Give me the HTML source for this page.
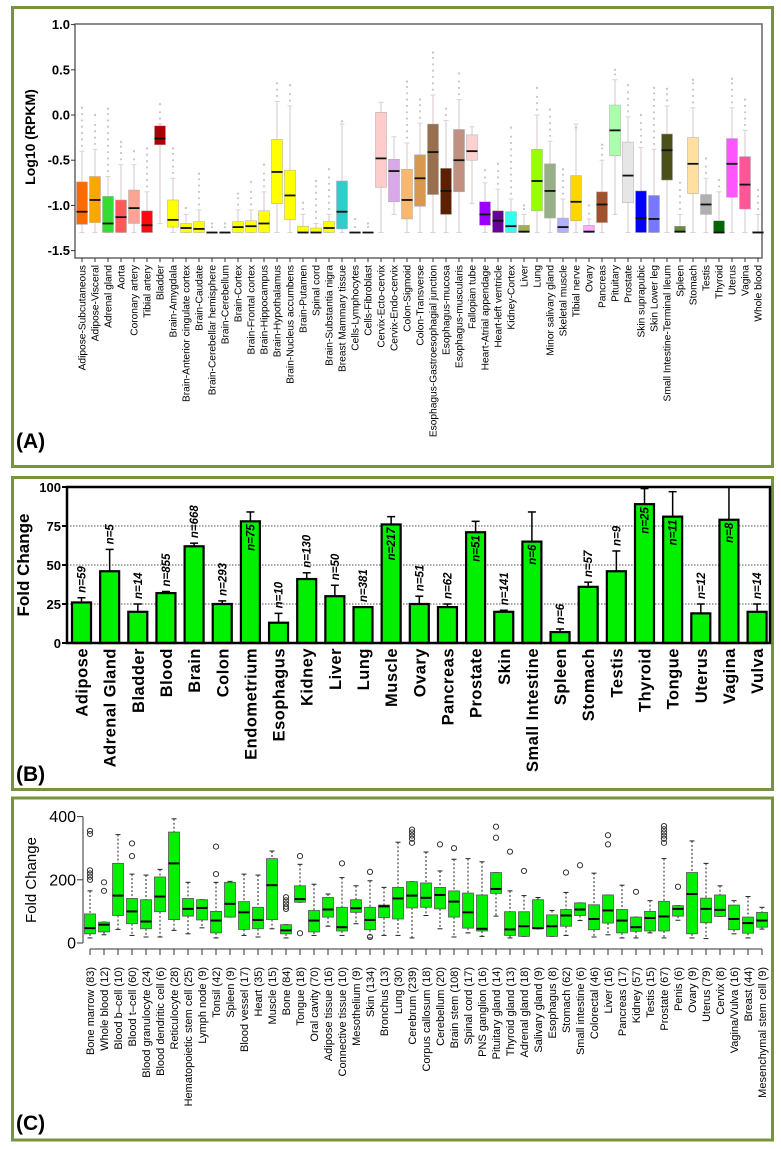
<!DOCTYPE html>
<html><head><meta charset="utf-8"><style>
body{margin:0;background:#fff}
svg{display:block}
text{font-family:"Liberation Sans",sans-serif}
</style></head><body>
<svg id="fig" width="781" height="1149" viewBox="0 0 781 1149" xmlns="http://www.w3.org/2000/svg">
<rect x="0" y="0" width="781" height="1149" fill="#fff"/>
<rect x="12.5" y="7.5" width="760" height="459" fill="none" stroke="#77933C" stroke-width="3"/>
<rect x="12.5" y="477.5" width="760" height="312" fill="none" stroke="#77933C" stroke-width="3"/>
<rect x="12.5" y="798" width="760" height="342" fill="none" stroke="#77933C" stroke-width="3"/>
<g id="gA"></g><g id="gB"></g><g id="gC"></g>
<text x="16" y="448" font-size="21" font-weight="bold">(A)</text>
<text x="16" y="781" font-size="21" font-weight="bold">(B)</text>
<text x="16" y="1130" font-size="21" font-weight="bold">(C)</text>
</svg>
<script>
// ---------- Panel A data ----------
const catsA=["Adipose-Subcutaneous","Adipose-Visceral","Adrenal gland","Aorta","Coronary artery","Tibial artery","Bladder","Brain-Amygdala","Brain-Anterior cingulate cortex","Brain-Caudate","Brain-Cerebellar hemisphere","Brain-Cerebellum","Brain-Cortex","Brain-Frontal cortex","Brain-Hippocampus","Brain-Hypothalamus","Brain-Nucleus accumbens","Brain-Putamen","Spinal cord","Brain-Substantia nigra","Breast Mammary tissue","Cells-Lymphocytes","Cells-Fibroblast","Cervix-Ecto-cervix","Cervix-Endo-cervix","Colon-Sigmoid","Colon-Transverse","Esophagus-Gastroesophagial junction","Esophagus-mucosa","Esophagus-muscularis","Fallopian tube","Heart-Atrial appendage","Heart-left ventricle","Kidney-Cortex","Liver","Lung","Minor salivary gland","Skeletal muscle","Tibial nerve","Ovary","Pancreas","Pituitary","Prostate","Skin suprapubic","Skin Lower leg","Small Intestine-Terminal Ileum","Spleen","Stomach","Testis","Thyroid","Uterus","Vagina","Whole blood"];
const q3A=[-0.74,-0.68,-0.9,-0.94,-0.83,-1.06,-0.12,-0.94,-1.2,-1.18,-1.3,-1.3,-1.18,-1.17,-1.06,-0.27,-0.61,-1.23,-1.25,-1.18,-0.73,-1.3,-1.3,0.03,-0.49,-0.6,-0.44,-0.1,-0.59,-0.16,-0.22,-0.96,-1.06,-1.07,-1.22,-0.38,-0.54,-1.14,-0.67,-1.22,-0.85,0.11,-0.3,-0.84,-0.89,-0.21,-1.23,-0.25,-0.88,-1.17,-0.26,-0.46,-1.29];
const medA=[-1.07,-0.94,-1.2,-1.13,-1.03,-1.22,-0.26,-1.16,-1.25,-1.26,-1.3,-1.3,-1.24,-1.23,-1.2,-0.63,-0.89,-1.3,-1.3,-1.25,-1.07,-1.3,-1.3,-0.48,-0.62,-0.94,-0.7,-0.41,-0.84,-0.5,-0.4,-1.1,-1.17,-1.23,-1.29,-0.73,-0.84,-1.24,-0.96,-1.29,-0.99,-0.17,-0.67,-1.14,-1.15,-0.39,-1.29,-0.54,-0.99,-1.3,-0.54,-0.77,-1.3];
const q1A=[-1.21,-1.19,-1.3,-1.3,-1.2,-1.3,-0.33,-1.24,-1.3,-1.3,-1.3,-1.3,-1.3,-1.3,-1.3,-0.98,-1.16,-1.3,-1.3,-1.3,-1.26,-1.3,-1.3,-0.8,-0.96,-1.15,-1.01,-0.88,-1.1,-0.85,-0.5,-1.22,-1.3,-1.3,-1.3,-1.06,-1.14,-1.3,-1.17,-1.3,-1.19,-0.45,-0.97,-1.3,-1.3,-0.72,-1.3,-0.87,-1.1,-1.3,-0.91,-1.04,-1.3];
const whiA=[-0.4,-0.38,-0.68,-0.55,-0.55,-0.85,-0.1,-0.7,-1.1,-1.05,-1.3,-1.3,-1.05,-1.05,-0.85,0.15,0.1,-1.1,-1.2,-1.1,-0.1,-1.3,-1.3,0.14,-0.24,-0.31,-0.09,0.22,-0.06,0.17,-0.13,-0.75,-0.82,-0.93,-1.1,0.0,-0.29,-0.93,-0.1,-1.15,-0.5,0.39,-0.02,-0.36,-0.38,0.1,-1.1,0.08,-0.7,-0.85,0.08,-0.17,-1.1];
const wloA=[-1.3,-1.3,-1.3,-1.3,-1.3,-1.3,-1.2,-1.3,-1.3,-1.3,-1.3,-1.3,-1.3,-1.3,-1.3,-1.3,-1.3,-1.3,-1.3,-1.3,-1.3,-1.3,-1.3,-1.3,-1.1,-1.3,-1.3,-1.3,-1.3,-1.3,-0.98,-1.3,-1.3,-1.3,-1.3,-1.3,-1.3,-1.3,-1.3,-1.3,-1.3,-1.1,-1.3,-1.3,-1.3,-1.3,-1.3,-1.3,-1.3,-1.3,-1.3,-1.3,-1.3];
const outA=[0.08,0.0,0.07,-0.3,-0.4,-0.37,0.12,-0.37,-1.03,-0.65,-1.2,-1.2,-0.87,-0.74,-0.55,0.35,0.33,-0.97,-0.73,-0.6,-0.07,-1.15,-1.2,null,null,0.37,0.17,0.69,0.07,0.46,null,-0.61,-0.54,-0.14,-1.0,0.3,0.06,-0.6,-0.14,-1.0,-0.33,0.5,0.33,0.0,0.3,0.29,-0.75,0.39,-0.48,-0.72,0.4,0.17,-0.83];
const colA=["#FF6A00","#FFA500","#33DD33","#FF5A5A","#FFA494","#FF0A0A","#AA0000","#FFFF00","#FFFF00","#FFFF00","#FFFF00","#FFFF00","#FFFF00","#FFFF00","#FFFF00","#FFFF00","#FFFF00","#FFFF00","#FFFF00","#FFFF00","#33CCCC","#CCCCCC","#CCCCCC","#FFCCCC","#D8A8E8","#F8B870","#D89850","#987050","#5A2000","#C09080","#FFD0D0","#9900FF","#660099","#33FFEE","#A0B050","#99FF00","#98B088","#B0B0FF","#FFD700","#FFAAFF","#A0522D","#AAFFAA","#E6E6E6","#0000FF","#7777FF","#4A5018","#6A8A40","#FFE0A0","#B0B0B0","#006600","#FF55FF","#FF5599","#999999"];
const ticksA=[1.0,0.5,0.0,-0.5,-1.0,-1.5];
const tickLabA=["1.0","0.5","0.0","-0.5","-1.0","-1.5"];
// ---------- Panel B data ----------
const catsB=["Adipose","Adrenal Gland","Bladder","Blood","Brain","Colon","Endometrium","Esophagus","Kidney","Liver","Lung","Muscle","Ovary","Pancreas","Prostate","Skin","Small Intestine","Spleen","Stomach","Testis","Thyroid","Tongue","Uterus","Vagina","Vulva"];
const valB=[26,46,20,32,62,25,78,13,41,30,23,76,25,23,71,20,65,7,36,46,89,81,19,79,20];
const errB=[29,60,25,33,64,27,84,19,45,37,23,81,30,25,78,21,84,9,39,59,99,97,25,100,25];
const nB=["59","5","14","855","668","293","75","10","130","50","381","217","51","62","51","141","6","6","57","9","25","11","12","8","14"];
const insideB=[0,0,0,0,0,0,1,0,0,0,0,1,0,0,1,0,1,0,0,0,1,1,0,1,0];
const ticksB=[0,25,50,75,100];
// ---------- Panel C data ----------
const catsC=["Bone marrow (83)","Whole blood (12)","Blood b\u2013cell (10)","Blood t\u2013cell (60)","Blood granulocyte (24)","Blood dendritic cell (6)","Reticulocyte (28)","Hematopoietic stem cell (25)","Lymph node (9)","Tonsil (42)","Spleen (9)","Blood vessel (17)","Heart (35)","Muscle (15)","Bone (84)","Tongue (18)","Oral cavity (70)","Adipose tissue (16)","Connective tissue (10)","Mesothelium (9)","Skin (134)","Bronchus (13)","Lung (30)","Cerebrum (239)","Corpus callosum (18)","Cerebellum (20)","Brain stem (108)","Spinal cord (17)","PNS ganglion (16)","Pituitary gland (14)","Thyroid gland (13)","Adrenal gland (18)","Salivary gland (9)","Esophagus (8)","Stomach (62)","Small intestine (6)","Colorectal (46)","Liver (16)","Pancreas (17)","Kidney (57)","Testis (15)","Prostate (67)","Penis (6)","Ovary (9)","Uterus (79)","Cervix (8)","Vagina/Vulva (16)","Breast (44)","Mesenchymal stem cell (9)"];
const q3C=[92,66,252,141,137,209,351,141,137,100,192,131,113,267,58,181,103,144,113,137,113,120,176,194,190,176,165,158,152,223,99,99,137,89,106,127,121,152,106,82,100,132,118,223,142,152,120,82,97];
const medC=[47,58,150,100,68,147,252,108,111,71,124,97,73,183,40,139,71,106,50,110,73,116,141,150,143,152,131,97,45,171,43,53,47,53,87,106,76,103,71,50,79,84,108,155,108,105,76,63,71];
const q1C=[29,35,87,61,45,99,74,85,73,32,82,43,45,74,29,129,35,82,38,97,42,80,76,111,113,108,82,47,38,157,24,21,45,21,53,87,42,63,32,37,38,38,85,29,64,84,42,31,50];
const whiC=[165,66,343,218,215,233,393,192,137,192,195,218,215,291,58,249,186,155,207,181,197,176,319,194,288,228,265,267,257,223,165,150,144,103,160,127,221,152,183,82,134,267,118,323,252,181,134,147,113];
const wloC=[16,26,43,24,19,19,40,29,48,16,82,24,19,45,16,129,24,53,24,61,16,24,24,16,87,45,19,32,21,85,16,21,45,21,24,71,19,26,16,16,32,16,72,16,14,84,29,16,44];
const outC=[[355,345,230,220,210,200],[192,165],[],[315,275],[],[],[],[],[],[305,218],[],[],[],[],[145,135,125,115,108],[275,31],[],[],[252],[],[225,19],[],[],[359,350,340,330,317],[],[312],[300],[],[],[368,333],[289],[228],[],[],[223],[246],[],[341,312],[],[162],[],[370,360,350,340,330,317],[178],[],[],[],[],[],[]];
const ticksC=[0,200,400];

// ---------- axis functions ----------
const xA=i=>82+i*13, yA=v=>115-v*90.4;
const xB=i=>81.5+i*28.15, yB=v=>643-v*1.56;
const xC=i=>90+i*14, yC=v=>943-v*0.316;
const NS="http://www.w3.org/2000/svg";
function mk(tag,attrs,parent,txt){const e=document.createElementNS(NS,tag);for(const k in attrs)e.setAttribute(k,attrs[k]);if(txt!==undefined)e.textContent=txt;parent.appendChild(e);return e;}

// ---------- Panel A ----------
const gA=document.getElementById('gA');
let fr=mk('rect',{x:75,y:24,width:687,height:234,fill:'#fff',stroke:'#666','stroke-width':1.5},gA);


let t=mk('text',{x:0,y:0,'font-size':14,'font-weight':'bold','text-anchor':'middle',transform:'translate(35,137) rotate(-90)'},gA,'Log10 (RPKM)');


ticksA.forEach((v,k)=>{
  const l=mk('line',{x1:71,x2:75,y1:yA(v),y2:yA(v),stroke:'#333','stroke-width':1},gA);
  
  
  const tt=mk('text',{x:70,y:yA(v)+4.5,'font-size':13,'font-weight':'bold','text-anchor':'end'},gA,tickLabA[k]);
  
  
});
catsA.forEach((c,i)=>{
  const x=xA(i);
  const g=mk('g',{},gA);
  
  
  mk('line',{x1:x,x2:x,y1:yA(whiA[i]),y2:yA(wloA[i]),stroke:'#ddd0d6','stroke-width':1.2},g);
  mk('line',{x1:x-2.5,x2:x+2.5,y1:yA(whiA[i]),y2:yA(whiA[i]),stroke:'#ddd0d6','stroke-width':1},g);
  mk('line',{x1:x-2.5,x2:x+2.5,y1:yA(wloA[i]),y2:yA(wloA[i]),stroke:'#ddd0d6','stroke-width':1},g);
  if(outA[i]!==null){
    for(let v=whiA[i]+0.06;v<=outA[i]-0.04;v+=0.07){mk('circle',{cx:x,cy:yA(v),r:1.1,fill:'#c8c8c8'},g);}
    mk('circle',{cx:x,cy:yA(outA[i]),r:1.2,fill:'#c8c8c8'},g);
  }
  const h=Math.max(yA(q1A[i])-yA(q3A[i]),0.5);
  mk('rect',{x:x-5.5,y:yA(q3A[i]),width:11,height:h,fill:colA[i],stroke:'#aaa','stroke-width':0.5},g);
  mk('line',{x1:x-5.5,x2:x+5.5,y1:yA(medA[i]),y2:yA(medA[i]),stroke:'#111','stroke-width':1.8},g);
  mk('line',{x1:x,x2:x,y1:258,y2:262,stroke:'#333','stroke-width':1},g);
  const lt=mk('text',{x:0,y:0,'font-size':10.2,'text-anchor':'end',transform:'translate('+(x+3.5)+',265) rotate(-90)'},gA,c);
  
  
});

// ---------- Panel B ----------
const gB=document.getElementById('gB');
t=mk('text',{x:0,y:0,'font-size':17,'font-weight':'bold','text-anchor':'middle',transform:'translate(29,565) rotate(-90)'},gB,'Fold Change');


ticksB.forEach(v=>{
  if(v>0&&v<100){const gl=mk('line',{x1:67,x2:770,y1:yB(v),y2:yB(v),stroke:'#555','stroke-width':1,'stroke-dasharray':'1.5,1.5'},gB);
  
  }
  const l=mk('line',{x1:62,x2:67,y1:yB(v),y2:yB(v),stroke:'#000','stroke-width':2},gB);
  
  
  const tt=mk('text',{x:61,y:yB(v)+5,'font-size':13,'font-weight':'bold','text-anchor':'end'},gB,String(v));
  
  
});
catsB.forEach((c,i)=>{
  const x=xB(i);
  const g=mk('g',{},gB);
  
  
  mk('line',{x1:x,x2:x,y1:yB(valB[i]),y2:yB(errB[i]),stroke:'#000','stroke-width':1.5},g);
  mk('line',{x1:x-4,x2:x+4,y1:yB(errB[i]),y2:yB(errB[i]),stroke:'#000','stroke-width':1.5},g);
  mk('rect',{x:x-9.5,y:yB(valB[i]),width:19,height:yB(0)-yB(valB[i]),fill:'#00F000',stroke:'#000','stroke-width':2.2},g);
  const ny=insideB[i]?yB(valB[i])+3:yB(errB[i])-5;
  const nt=mk('text',{x:0,y:0,'font-size':11.5,'font-weight':'bold','font-style':'italic','text-anchor':insideB[i]?'end':'start',transform:'translate('+(x+4)+','+ny+') rotate(-90)'},gB,'n='+nB[i]);
  
  
  const lt=mk('text',{x:0,y:0,'font-size':16.5,'font-weight':'bold','text-anchor':'end','letter-spacing':'0.5',transform:'translate('+(x+6)+',648) rotate(-90)'},gB,c);
  
  
});
fr=mk('rect',{x:67,y:487,width:703,height:156,fill:'none',stroke:'#000','stroke-width':2.5},gB);



// ---------- Panel C ----------
const gC=document.getElementById('gC');
t=mk('text',{x:0,y:0,'font-size':15,'text-anchor':'middle',transform:'translate(36,880) rotate(-90)'},gC,'Fold Change');


let ax=mk('line',{x1:83,x2:83,y1:yC(400),y2:yC(0),stroke:'#333','stroke-width':1},gC);


ticksC.forEach(v=>{
  const l=mk('line',{x1:77,x2:83,y1:yC(v),y2:yC(v),stroke:'#333','stroke-width':1},gC);
  
  
  const tt=mk('text',{x:76,y:yC(v)+5.5,'font-size':16,'text-anchor':'end'},gC,String(v));
  
  
});
ax=mk('line',{x1:xC(0),x2:xC(catsC.length-1),y1:949,y2:949,stroke:'#333','stroke-width':1},gC);


catsC.forEach((c,i)=>{
  const x=xC(i);
  const g=mk('g',{},gC);
  
  
  mk('line',{x1:x,x2:x,y1:yC(whiC[i]),y2:yC(q3C[i]),stroke:'#222','stroke-width':1,'stroke-dasharray':'2,2'},g);
  mk('line',{x1:x,x2:x,y1:yC(q1C[i]),y2:yC(wloC[i]),stroke:'#222','stroke-width':1,'stroke-dasharray':'2,2'},g);
  mk('line',{x1:x-2.5,x2:x+2.5,y1:yC(whiC[i]),y2:yC(whiC[i]),stroke:'#222','stroke-width':1},g);
  mk('line',{x1:x-2.5,x2:x+2.5,y1:yC(wloC[i]),y2:yC(wloC[i]),stroke:'#222','stroke-width':1},g);
  mk('rect',{x:x-5.5,y:yC(q3C[i]),width:11,height:yC(q1C[i])-yC(q3C[i]),fill:'#00F000',stroke:'#555','stroke-width':0.8},g);
  mk('line',{x1:x-5.5,x2:x+5.5,y1:yC(medC[i]),y2:yC(medC[i]),stroke:'#000','stroke-width':2},g);
  outC[i].forEach(v=>mk('circle',{cx:x,cy:yC(v),r:2.6,fill:'none',stroke:'#333','stroke-width':1},g));
  mk('line',{x1:x,x2:x,y1:949,y2:955,stroke:'#333','stroke-width':1},g);
  const lt=mk('text',{x:0,y:0,'font-size':11,'text-anchor':'end',transform:'translate('+(x+4)+',967) rotate(-90)'},gC,c);
  
  
});
</script>
</body></html>
